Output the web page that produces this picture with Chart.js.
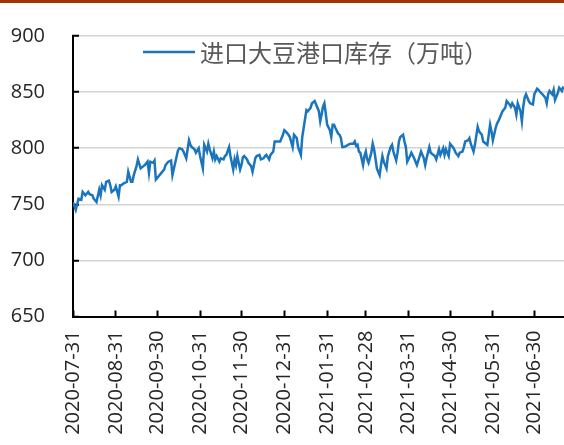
<!DOCTYPE html>
<html>
<head>
<meta charset="utf-8">
<script src="https://cdn.jsdelivr.net/npm/chart.js@4/dist/chart.umd.min.js"></script>
<style>
  html, body { margin: 0; padding: 0; background: #fff; overflow: hidden; }
  #wrap { position: relative; width: 564px; height: 445px; }
  #topbar { position: absolute; left: 0; top: 0; width: 564px; height: 3px; background: #a03404; }
  canvas { position: absolute; left: 0; top: 0; }
</style>
</head>
<body>
<div id="wrap">
  <canvas id="stockChart" width="564" height="445"></canvas>
  <div id="topbar"></div>
</div>
<script>
// days counted from 2020-07-31
const days = [
  0, 2, 4, 6, 7, 9, 11, 12, 14, 15, 17, 19, 20, 21, 23, 24, 26, 27, 28, 30,
  31, 33, 34, 35, 37, 39, 40, 42, 43, 44, 46, 47, 49, 51, 52, 54, 55, 56, 58, 59,
  60, 62, 64, 66, 67, 69, 71, 72, 74, 76, 77, 79, 80, 82, 84, 85, 86, 88, 89, 91,
  92, 94, 95, 97, 98, 99, 101, 102, 103, 104, 106, 107, 109, 110, 111, 113, 114, 116, 117, 118,
  119, 121, 122, 123, 124, 126, 127, 129, 130, 132, 133, 135, 136, 138, 139, 140, 142, 143, 145, 146,
  148, 150, 152, 153, 154, 156, 157, 159, 160, 162, 163, 165, 166, 167, 169, 170, 172, 173, 175, 176,
  178, 179, 180, 181, 182, 183, 184, 186, 187, 188, 189, 190, 192, 193, 194, 195, 196, 198, 199, 201,
  203, 204, 205, 206, 207, 208, 210, 211, 212, 213, 214, 216, 217, 218, 219, 220, 222, 223, 224, 225,
  227, 228, 230, 231, 232, 234, 235, 236, 237, 239, 240, 241, 242, 244, 245, 247, 248, 249, 251, 252,
  254, 255, 256, 258, 259, 261, 262, 263, 265, 266, 268, 269, 270, 272, 273, 275, 276, 277, 279, 280,
  282, 283, 284, 286, 287, 288, 290, 291, 293, 294, 296, 297, 299, 300, 301, 302, 303, 304, 306, 307,
  308, 310, 311, 313, 314, 316, 317, 318, 320, 321, 322, 324, 325, 326, 327, 328, 330, 331, 333, 334,
  336, 337, 339, 340, 342, 343, 344, 345, 347, 348, 349, 351, 352, 354, 355
];

// imported soybean stock at ports, 10k tonnes
const stock = [
  752, 745, 755, 754, 761, 758, 761, 759, 758, 755, 752, 763, 758, 767, 763, 770, 771, 767, 761, 763,
  766, 757, 767, 767, 769, 770, 779, 770, 770, 776, 784, 790, 782, 784, 785, 788, 778, 788, 787, 789,
  772, 775, 778, 781, 785, 788, 789, 776, 787, 798, 800, 799, 797, 791, 807, 803, 801, 799, 796, 800,
  793, 782, 803, 797, 804, 799, 791, 797, 790, 793, 788, 791, 790, 793, 794, 801, 793, 781, 790, 785,
  793, 781, 785, 792, 793, 790, 787, 784, 779, 791, 793, 794, 790, 791, 793, 794, 790, 794, 797, 806,
  806, 806, 812, 816, 815, 812, 810, 801, 812, 809, 801, 794, 810, 818, 834, 833, 836, 840, 842, 839,
  833, 824, 830, 837, 840, 831, 821, 816, 810, 821, 821, 818, 813, 812, 809, 801, 801, 802, 803, 804,
  804, 806, 802, 803, 797, 796, 785, 793, 797, 790, 787, 796, 804, 799, 791, 782, 776, 785, 793, 788,
  782, 793, 801, 803, 797, 789, 796, 806, 810, 812, 806, 801, 788, 793, 796, 791, 788, 785, 793, 797,
  791, 785, 791, 801, 796, 794, 793, 790, 799, 794, 800, 794, 799, 793, 804, 801, 799, 796, 793, 796,
  797, 801, 806, 807, 809, 804, 797, 803, 819, 815, 812, 806, 804, 803, 812, 821, 815, 807, 818, 822,
  824, 830, 833, 836, 842, 839, 837, 840, 836, 830, 840, 833, 824, 837, 845, 848, 842, 840, 839, 848,
  853, 852, 849, 848, 845, 840, 848, 851, 848, 852, 843, 849, 854, 851, 855
];

// month-end ticks
const tickDays = [0, 31, 61, 92, 122, 153, 184, 212, 243, 273, 304, 334];
const tickLabels = [
  '2020-07-31', '2020-08-31', '2020-09-30', '2020-10-31', '2020-11-30', '2020-12-31',
  '2021-01-31', '2021-02-28', '2021-03-31', '2021-04-30', '2021-05-31', '2021-06-30'
];

const seriesName = '进口大豆港口库存（万吨）';
const lineColor = '#1b75bc';

Chart.defaults.font.family = '"Open Sans", "Liberation Sans", sans-serif';
Chart.defaults.color = '#333';

// legend drawn inside the plot, line sample followed by the label
const innerLegend = {
  id: 'innerLegend',
  afterDraw(chart) {
    const { ctx, chartArea } = chart;
    const ds = chart.data.datasets[0];
    const x0 = chartArea.left + 70;
    const y = chartArea.top + 16;
    ctx.save();
    ctx.strokeStyle = ds.borderColor;
    ctx.lineWidth = 2.5;
    ctx.beginPath();
    ctx.moveTo(x0, y);
    ctx.lineTo(x0 + 52, y);
    ctx.stroke();
    ctx.font = '24px "Noto Sans CJK SC"';
    ctx.fillStyle = '#595959';
    ctx.textBaseline = 'middle';
    ctx.textAlign = 'left';
    ctx.fillText(ds.label, x0 + 57, y + 1);
    ctx.restore();
  }
};

new Chart(document.getElementById('stockChart'), {
  type: 'line',
  data: {
    datasets: [{
      label: seriesName,
      data: days.map((d, i) => ({ x: d, y: stock[i] })),
      borderColor: lineColor,
      backgroundColor: lineColor,
      borderWidth: 2.5,
      pointRadius: 0,
      tension: 0,
      fill: false
    }]
  },
  options: {
    responsive: false,
    animation: false,
    layout: { padding: { top: 36, right: 0, left: 0, bottom: 0 } },
    plugins: {
      legend: { display: false },
      tooltip: { enabled: false }
    },
    scales: {
      x: {
        type: 'linear',
        min: 0,
        max: 355.5,
        afterBuildTicks: (scale) => {
          scale.ticks = tickDays.map(v => ({ value: v }));
        },
        afterFit: (scale) => {
          scale.height = 128.5;
          scale.paddingLeft = 0;
          scale.paddingRight = 0;
        },
        border: { color: '#000', width: 2 },
        grid: {
          drawOnChartArea: false,
          drawTicks: true,
          tickLength: -6,
          tickColor: '#000',
          tickWidth: 2
        },
        ticks: {
          autoSkip: false,
          maxRotation: 90,
          minRotation: 90,
          padding: 20,
          color: '#262626',
          font: { size: 20 },
          callback: (value, index) => tickLabels[index]
        }
      },
      y: {
        min: 650,
        max: 900,
        afterFit: (scale) => {
          scale.width = 73;
          scale.paddingTop = 0;
          scale.paddingBottom = 0;
        },
        border: { color: '#000', width: 2 },
        grid: {
          color: '#d4d4d4',
          lineWidth: 1.5,
          tickLength: -6,
          tickColor: '#000',
          tickWidth: 2
        },
        ticks: {
          stepSize: 50,
          padding: 34,
          color: '#262626',
          font: { size: 20 }
        }
      }
    }
  },
  plugins: [innerLegend]
});
</script>
</body>
</html>
